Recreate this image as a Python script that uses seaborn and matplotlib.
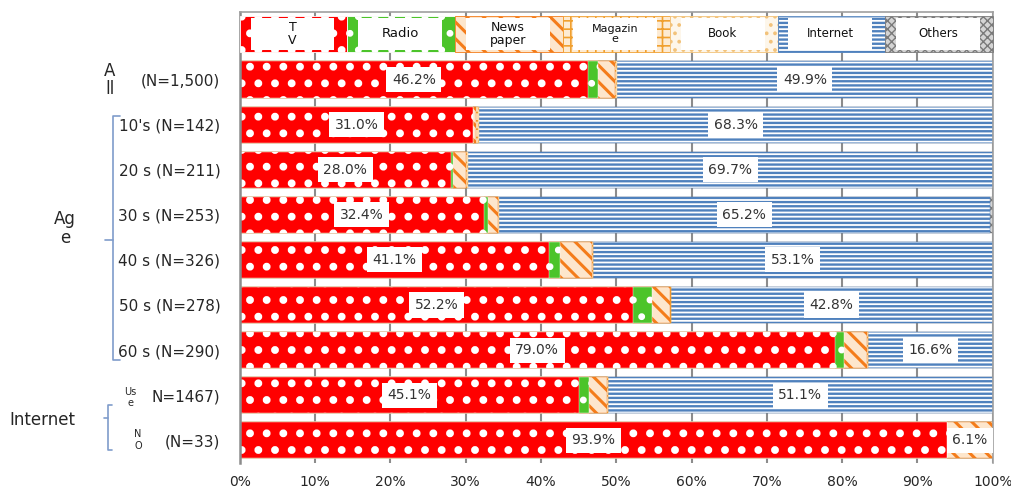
import numpy as np
import pandas as pd
import seaborn as sns
import matplotlib
matplotlib.use("Agg")
import matplotlib.pyplot as plt
import matplotlib.transforms as mtransforms
from matplotlib.patches import Rectangle
from matplotlib.lines import Line2D

# ---------------- data ----------------
categories = ["All", "10s", "20s", "30s", "40s", "50s", "60s", "Use", "No"]
tick_labels = ["(N=1,500)", "10's (N=142)", "20 s (N=211)", "30 s (N=253)",
               "40 s (N=326)", "50 s (N=278)", "60 s (N=290)", "N=1467)", "(N=33)"]
series = ["TV", "Radio", "Newspaper", "Magazine", "Book", "Internet", "Others"]
legend_labels = ["T\nV", "Radio", "News\npaper", "Magazin\ne", "Book", "Internet", "Others"]
x_ticks = [0, 10, 20, 30, 40, 50, 60, 70, 80, 90, 100]

tv = [46.2, 31.0, 28.0, 32.4, 41.1, 52.2, 79.0, 45.1, 93.9]
radio = [1.4, 0.0, 0.3, 0.5, 1.4, 2.5, 1.3, 1.3, 0.0]
newspaper = [2.2, 0.4, 1.7, 1.4, 4.3, 2.4, 3.0, 2.4, 6.1]
magazine = [0.2, 0.2, 0.2, 0.0, 0.1, 0.1, 0.1, 0.1, 0.0]
book = [0.1, 0.1, 0.1, 0.1, 0.0, 0.0, 0.0, 0.0, 0.0]
internet = [49.9, 68.3, 69.7, 65.2, 53.1, 42.8, 16.6, 51.1, 0.0]
others = [0.0, 0.0, 0.0, 0.4, 0.0, 0.0, 0.0, 0.0, 0.0]

tv_labels = ["46.2%", "31.0%", "28.0%", "32.4%", "41.1%", "52.2%", "79.0%", "45.1%", "93.9%"]
internet_labels = ["49.9%", "68.3%", "69.7%", "65.2%", "53.1%", "42.8%", "16.6%", "51.1%", ""]
newspaper_labels = ["", "", "", "", "", "", "", "", "6.1%"]

# ---------------- styles ----------------
faces = ["#ff0000", "#4cc42a", "#fde6cc", "#fdebd3", "#fdf6ea", "#ffffff", "#d4d4d4"]
hatch_cols = ["#ffffff", "#ffffff", "#f47c1a", "#f0a030", "#f2c27a", "#4f81bd", "#7a7a7a"]
hatches = [".", ".", "\\\\", "++", "..", "----", "xxxx"]
hatch_lws = [3.2, 2.5, 2.2, 1.2, 1.5, 1.7, 1.0]

sns.set_style("white")
plt.rcParams["font.family"] = ["DejaVu Sans"]


def style_patch(p, k):
    p.set_hatch(hatches[k])
    p.set_edgecolor(hatch_cols[k])
    if hasattr(p, "set_hatch_linewidth"):
        p.set_hatch_linewidth(hatch_lws[k])


fig, ax = plt.subplots(figsize=(10.12, 4.95), dpi=100)
fig.subplots_adjust(left=0.237, right=0.981, top=0.976, bottom=0.065)

values = np.array([tv, radio, newspaper, magazine, book, internet, others])
cum = np.cumsum(values, axis=0)
left = cum - values

df = pd.DataFrame({"category": categories})
for k in reversed(range(len(series))):
    plt.rcParams["hatch.linewidth"] = hatch_lws[k]
    df["end"] = cum[k]
    sns.barplot(data=df, x="end", y="category", orient="h", color=faces[k],
                saturation=1, width=0.8, ax=ax, zorder=2)
    for p in ax.containers[-1]:
        style_patch(p, k)
        p.set_linewidth(0.3)

# value labels
lab_style = dict(ha="center", va="center", fontsize=10, color="#333333", zorder=5,
                 bbox=dict(boxstyle="square,pad=0.4", fc="white", ec="none"))
for i in range(len(categories)):
    for k, labs in [(0, tv_labels), (5, internet_labels), (2, newspaper_labels)]:
        if labs[i]:
            ax.text(left[k][i] + values[k][i] / 2, i, labs[i], **lab_style)

# axes
ax.set_xlim(0, 100)
ax.set_ylim(8.5, -1.5)
ax.set_xticks(x_ticks)
ax.set_xticklabels([f"{v}%" for v in x_ticks], fontsize=10)
ax.set_yticks(range(len(categories)))
ax.set_yticklabels(tick_labels, fontsize=11)
ax.set_xlabel("")
ax.set_ylabel("")
ax.set_yticks(np.arange(-0.5, 8.6, 1.0), minor=True)
ax.tick_params(axis="y", which="major", length=0, pad=14)
ax.tick_params(axis="y", which="minor", length=4, direction="in", color="#8c8c8c", width=1.2)
ax.tick_params(axis="x", length=0, pad=9)
ax.xaxis.grid(True, color="#8c8c8c", lw=1.5, zorder=0)
ax.set_axisbelow(True)
for s in ["left", "top", "right"]:
    ax.spines[s].set_visible(True)
    ax.spines[s].set_color("#a0a0a0")
    ax.spines[s].set_linewidth(1.2)
ax.spines["left"].set_color("#8c8c8c")
ax.spines["left"].set_linewidth(1.8)
ax.spines["bottom"].set_visible(False)

# legend row (drawn at the top of the plot area)
lt = mtransforms.blended_transform_factory(ax.transAxes, ax.transData)
n = len(series)
legend_fs = [9, 9.5, 9, 8, 8.5, 8.5, 8.5]
for k in range(n):
    x0 = k / n
    plt.rcParams["hatch.linewidth"] = hatch_lws[k]
    r = Rectangle((x0, -1.4), 1 / n, 0.78, transform=lt, facecolor=faces[k],
                  lw=0.6, clip_on=False, zorder=3)
    style_patch(r, k)
    ax.add_patch(r)
    ax.add_patch(Rectangle((x0 + 0.1 / n, -1.36), 0.78 / n, 0.70, transform=lt,
                           facecolor="white", edgecolor="none", clip_on=False, zorder=4))
    ax.text(x0 + 0.49 / n, -1.01, legend_labels[k], transform=lt, ha="center", va="center",
            fontsize=legend_fs[k], linespacing=1.05, zorder=5, color="#111111")

# left-side group labels and brackets
bt = mtransforms.blended_transform_factory(fig.transFigure, ax.transData)
ax.text(110 / 1012, 0.0, "A\nll", transform=bt, ha="center", va="center", fontsize=12,
        linespacing=1.0)
ax.text(65 / 1012, 3.3, "Ag\ne", transform=bt, ha="center", va="center", fontsize=12,
        linespacing=1.1)
ax.text(42 / 1012, 7.55, "Internet", transform=bt, ha="center", va="center", fontsize=12)
ax.text(130 / 1012, 7.05, "Us\ne", transform=bt, ha="center", va="center", fontsize=7,
        linespacing=1.2)
ax.text(138 / 1012, 8.0, "N\nO", transform=bt, ha="center", va="center", fontsize=7,
        linespacing=1.3)

bc = "#7f9ccb"
def bracket(x, y0, y1, ym, xr, xl):
    fig.add_artist(Line2D([xr, x, x, xr], [y0, y0, y1, y1], transform=bt, color=bc, lw=1.2))
    fig.add_artist(Line2D([x, xl], [ym, ym], transform=bt, color=bc, lw=1.2))

bracket(113 / 1012, 0.82, 6.22, 3.55, 120 / 1012, 105 / 1012)
bracket(108 / 1012, 7.22, 8.22, 7.5, 112 / 1012, 104 / 1012)

fig.savefig("out.png", dpi=100)
